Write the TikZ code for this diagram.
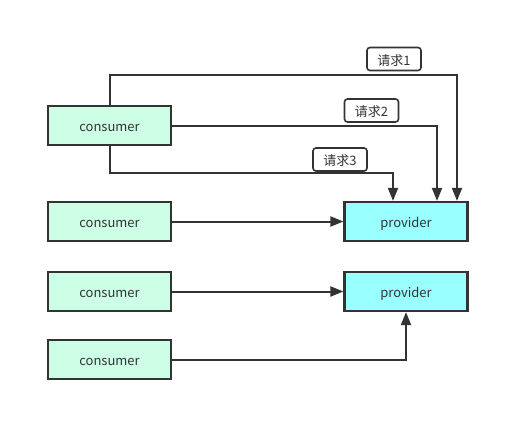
\documentclass[tikz,border=0pt]{standalone}
\usepackage{fontspec}
\setmainfont{Noto Sans CJK SC}
\usetikzlibrary{arrows.meta}
\definecolor{ink}{HTML}{333333}
\definecolor{cfill}{HTML}{CCFFE6}
\definecolor{pfill}{HTML}{99FFFF}
\begin{document}
\begin{tikzpicture}[x=1pt,y=-1pt,
  box/.style={draw=ink,line width=2.2pt,minimum width=123pt,minimum height=39pt,inner sep=0pt,text=ink,text height=12.5pt,text depth=0pt,font=\fontsize{13}{15}\selectfont},
  cons/.style={box,fill=cfill},
  prov/.style={box,fill=pfill},
  lbl/.style={draw=ink,line width=1.6pt,rounded corners=3pt,fill=white,minimum width=54pt,minimum height=23pt,inner sep=0pt,text=ink,text height=12.5pt,text depth=0pt,font=\fontsize{13}{15}\selectfont},
  conn/.style={draw=ink,line width=2pt,-{Triangle[length=13pt,width=10pt]}}]
\useasboundingbox (0,0) rectangle (530,441);
\node[cons] (c1) at (109.5,125.5) {consumer};
\node[cons] (c2) at (109.5,221.5) {consumer};
\node[cons] (c3) at (109.5,291.5) {consumer};
\node[cons] (c4) at (109.5,359.5) {consumer};
\node[prov] (p1) at (406,221.5) {provider};
\node[prov] (p2) at (406,291.5) {provider};
\coordinate (t1) at (457,75.5);
\coordinate (t2) at (437,126);
\coordinate (t3) at (393,173);
\draw[conn] (c1.north) |- (t1) -- (t1 |- p1.north);
\draw[conn] (c1.east |- t2) -- (t2) -- (t2 |- p1.north);
\draw[conn] (c1.south) |- (t3) -- (t3 |- p1.north);
\draw[conn] (c2.east) -- (p1.west);
\draw[conn] (c3.east) -- (p2.west);
\draw[conn] (c4.east) -| (p2.south);
\node[lbl] (l1) at (394,59) {请求1};
\node[lbl] (l2) at (371.5,110.5) {请求2};
\node[lbl] (l3) at (340,159.5) {请求3};
\end{tikzpicture}
\end{document}
